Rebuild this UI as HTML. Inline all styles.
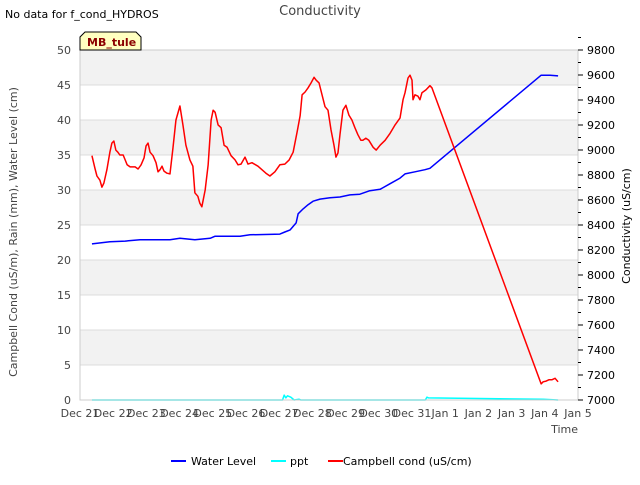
<!DOCTYPE html>
<html><head><meta charset="utf-8"><style>
body{margin:0;background:#fff;font-family:"Liberation Sans","DejaVu Sans",sans-serif;}
svg text{font-family:"DejaVu Sans","Liberation Sans",sans-serif;}
</style></head><body>
<svg width="640" height="480" id="chart">
<text x="5" y="18" font-size="11" fill="#000">No data for f_cond_HYDROS</text>
<text x="320" y="15" font-size="13" fill="#444" text-anchor="middle">Conductivity</text>
<g id="grid"></g>
<g id="series"></g>
<g id="axes"></g>
<g>
<polygon points="80,50 80,37 85,32 136,32 141,37 141,50" fill="#ffffc0" stroke="#000" stroke-width="1"/>
<text x="87" y="46" font-size="11" font-weight="bold" fill="#8b0000">MB_tule</text>
</g>
<text transform="translate(17,232) rotate(-90)" font-size="11" fill="#444" text-anchor="middle">Campbell Cond (uS/m), Rain (mm), Water Level (cm)</text>
<text transform="translate(630,226) rotate(-90)" font-size="11" fill="#000" text-anchor="middle">Conductivity (uS/cm)</text>
<text x="578" y="433" font-size="11" fill="#444" text-anchor="end">Time</text>
<g>
<line x1="171" y1="461" x2="186" y2="461" stroke="#0000ff" stroke-width="2"/>
<text x="191" y="465" font-size="11">Water Level</text>
<line x1="271" y1="461" x2="286" y2="461" stroke="#00ffff" stroke-width="2"/>
<text x="290" y="465" font-size="11">ppt</text>
<line x1="328" y1="461" x2="343" y2="461" stroke="#ff0000" stroke-width="2"/>
<text x="343" y="465" font-size="11">Campbell cond (uS/cm)</text>
</g>
</svg>
<script>
const xTickLabels=["Dec 21","Dec 22","Dec 23","Dec 24","Dec 25","Dec 26","Dec 27","Dec 28","Dec 29","Dec 30","Dec 31","Jan 1","Jan 2","Jan 3","Jan 4","Jan 5"];
const leftTicks=[0,5,10,15,20,25,30,35,40,45,50];
const rightTicks=[7000,7200,7400,7600,7800,8000,8200,8400,8600,8800,9000,9200,9400,9600,9800];
const redT=[0.36,0.45,0.51,0.60,0.66,0.72,0.81,0.90,0.96,1.02,1.08,1.14,1.20,1.30,1.36,1.42,1.51,1.66,1.75,1.84,1.93,1.99,2.05,2.11,2.20,2.29,2.35,2.41,2.47,2.53,2.62,2.71,2.80,2.89,3.01,3.10,3.19,3.31,3.40,3.46,3.55,3.61,3.67,3.77,3.86,3.95,4.01,4.07,4.16,4.25,4.34,4.43,4.55,4.67,4.76,4.85,4.97,5.06,5.18,5.36,5.48,5.60,5.72,5.87,6.02,6.17,6.30,6.42,6.54,6.63,6.69,6.78,6.87,6.96,7.05,7.11,7.20,7.29,7.38,7.47,7.56,7.65,7.71,7.77,7.83,7.92,8.01,8.10,8.19,8.28,8.37,8.46,8.52,8.61,8.70,8.83,8.92,9.04,9.19,9.34,9.49,9.64,9.73,9.79,9.88,9.94,10.00,10.03,10.09,10.18,10.24,10.30,10.42,10.54,10.60,13.89,13.95,14.04,14.13,14.22,14.31,14.40];
const redV=[34.9,33.1,32.0,31.4,30.4,31.0,32.9,35.4,36.7,37.0,35.7,35.4,35.0,35.0,34.3,33.6,33.3,33.3,33.0,33.6,34.6,36.3,36.7,35.4,34.9,33.9,32.6,32.9,33.4,32.7,32.4,32.3,36.0,40.0,42.0,39.3,36.4,34.3,33.4,29.6,29.1,28.1,27.6,30.0,33.6,40.0,41.4,41.1,39.3,38.9,36.4,36.1,34.9,34.3,33.6,33.7,34.7,33.7,33.9,33.4,32.9,32.4,32.0,32.6,33.6,33.7,34.3,35.4,38.3,40.6,43.6,44.0,44.6,45.3,46.1,45.7,45.3,43.6,41.9,41.4,38.6,36.4,34.7,35.3,37.9,41.4,42.1,40.7,40.0,38.9,37.9,37.1,37.1,37.4,37.1,36.1,35.7,36.4,37.1,38.1,39.3,40.3,42.9,43.9,46.0,46.4,45.7,42.9,43.6,43.4,42.9,43.9,44.3,44.9,44.6,2.3,2.6,2.7,2.9,2.9,3.1,2.6];
const blueT=[0.36,0.90,1.36,1.81,2.71,3.01,3.46,3.92,4.07,4.82,5.12,6.02,6.17,6.33,6.51,6.57,6.72,6.87,7.02,7.23,7.53,7.83,8.13,8.43,8.73,9.04,9.34,9.64,9.79,10.09,10.39,10.54,13.89,14.16,14.40];
const blueV=[22.3,22.6,22.7,22.9,22.9,23.1,22.9,23.1,23.4,23.4,23.6,23.7,24.0,24.3,25.3,26.6,27.3,27.9,28.4,28.7,28.9,29.0,29.3,29.4,29.9,30.1,30.9,31.7,32.3,32.6,32.9,33.1,46.4,46.4,46.3];
const cyanT=[0.36,6.1,6.15,6.2,6.25,6.35,6.45,6.6,6.65,10.4,10.45,10.5,13.95,14.4];
const cyanV=[0,0,0.7,0.3,0.6,0.4,0,0.1,0,0,0.4,0.3,0.1,0];
const L=80,R=578,T=50,B=400;
const xS=d=>L+d*(R-L)/15;
const yS=v=>B-v*(B-T)/50;
const yR=v=>B-(v-7000)*(B-T)/2800;
const NS="http://www.w3.org/2000/svg";
function mk(tag,attrs,parent){const e=document.createElementNS(NS,tag);for(const k in attrs)e.setAttribute(k,attrs[k]);parent.appendChild(e);return e;}
const grid=document.getElementById('grid'),axes=document.getElementById('axes'),ser=document.getElementById('series');
for(let i=0;i<leftTicks.length-1;i++){
  if(i%2===1){const b=mk('rect',{x:L,y:yS(leftTicks[i+1]),width:R-L,height:yS(leftTicks[i])-yS(leftTicks[i+1]),fill:'#f2f2f2'},grid);
  
  }
}
leftTicks.forEach(v=>{
  const g=mk('line',{x1:L,x2:R,y1:yS(v),y2:yS(v),stroke:'#dcdcdc','stroke-width':1},grid);
  
  
  const t=mk('text',{x:L-9,y:yS(v)+4,'font-size':11,'text-anchor':'end',fill:'#444'},axes);t.textContent=v;
  
  
});
mk('rect',{x:L,y:T,width:R-L,height:B-T,fill:'none',stroke:'#ccc'},axes);
rightTicks.forEach(v=>{
  mk('line',{x1:R,x2:R+5,y1:yR(v),y2:yR(v),stroke:'#000'},axes);
  mk('line',{x1:R,x2:R+3,y1:yR(v+100),y2:yR(v+100),stroke:'#000'},axes);
  const t=mk('text',{x:R+9,y:yR(v)+4,'font-size':11,fill:'#000'},axes);t.textContent=v;
  
  
});
xTickLabels.forEach((s,i)=>{
  const t=mk('text',{x:xS(i),y:417,'font-size':11,'text-anchor':'middle',fill:'#444'},axes);t.textContent=s;
  
  
});
function line(ts,vs,color,name){
  const p=mk('polyline',{points:ts.map((t,i)=>xS(t)+','+yS(vs[i])).join(' '),fill:'none',stroke:color,'stroke-width':1.5,'stroke-linejoin':'round'},ser);
  
  
}
line(cyanT,cyanV,'#00ffff','ppt-line');
line(blueT,blueV,'#0000ff','water-level-line');
line(redT,redV,'#ff0000','campbell-cond-line');
</script>
</body></html>
